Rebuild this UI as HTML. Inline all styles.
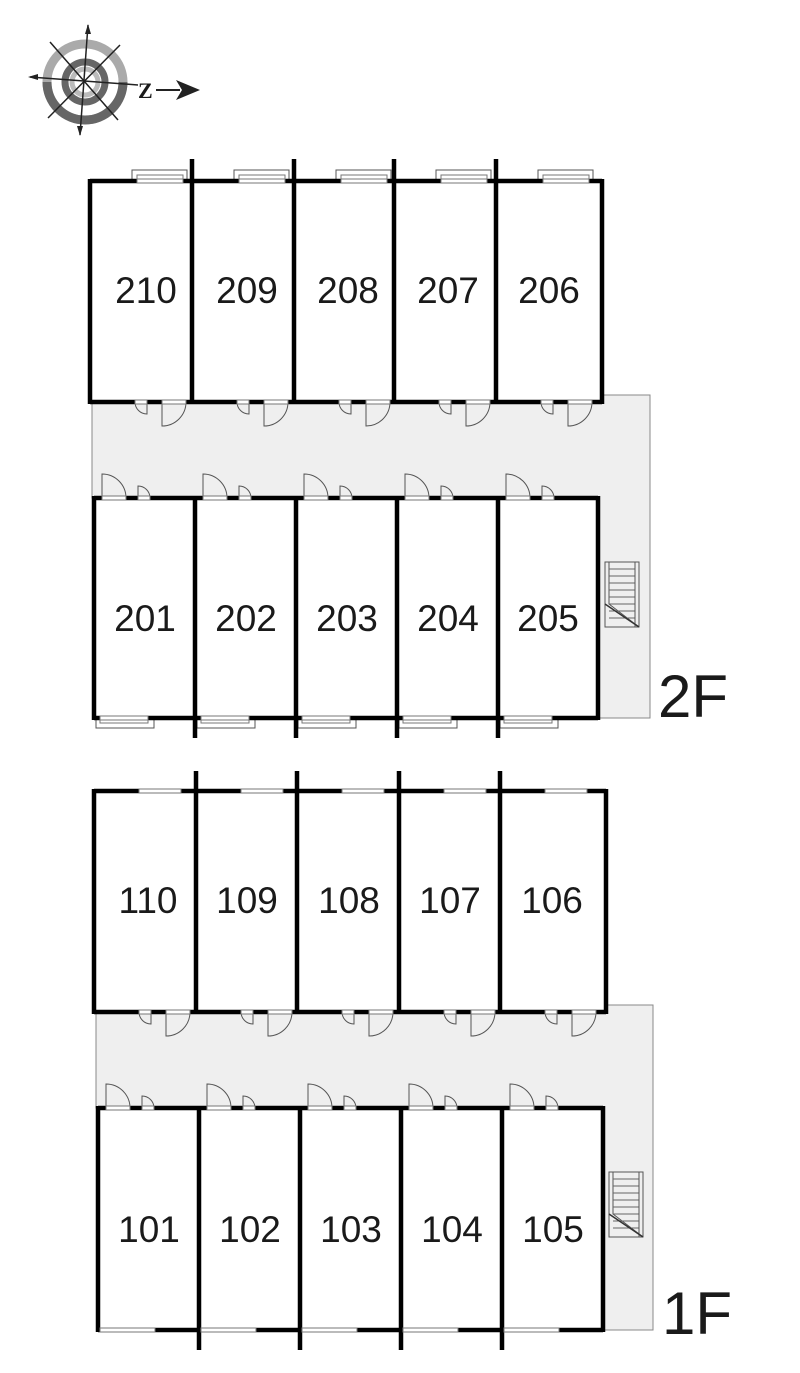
<!DOCTYPE html>
<html><head><meta charset="utf-8"><style>
html,body{margin:0;padding:0;background:#fff;}
svg{display:block;}
text{font-family:"Liberation Sans",sans-serif;fill:#1a1a1a;}
</style></head><body>
<svg id="s" width="800" height="1373" viewBox="0 0 800 1373" xmlns="http://www.w3.org/2000/svg">
<polygon points="92,402 602,402 602,395 650,395 650,718 598,718 598,498 92,498" fill="#efefef" stroke="#888" stroke-width="1"/>
<polygon points="96,1012 606,1012 606,1005 653,1005 653,1330 603,1330 603,1108 96,1108" fill="#efefef" stroke="#888" stroke-width="1"/>
<g id="g"></g>
<g>
<circle cx="85" cy="82" r="38" fill="none" stroke="#aaa" stroke-width="9"/>
<path d="M47,82 A38,38 0 0 0 123,82" fill="none" stroke="#666" stroke-width="9"/>
<circle cx="85" cy="82" r="20" fill="none" stroke="#666" stroke-width="7"/>
<circle cx="85" cy="82" r="13" fill="none" stroke="#bbb" stroke-width="5"/>
<g stroke="#222" stroke-width="1.5">
<line x1="88" y1="25" x2="80" y2="135"/><line x1="30" y1="77" x2="138" y2="85"/>
<line x1="50" y1="42" x2="118" y2="120"/><line x1="120" y1="45" x2="48" y2="118"/>
</g>
<polygon points="88,24 85,34 91,34" fill="#222"/><polygon points="80,136 77,126 83,126" fill="#222"/>
<polygon points="28,77 38,74 38,80" fill="#222"/>
<text x="138" y="98" font-size="22" font-weight="bold" style="font-family:'Liberation Serif',serif">Z</text>
<line x1="156" y1="90" x2="180" y2="90" stroke="#222" stroke-width="2"/>
<polygon points="200,90 176,80 182,90 176,100" fill="#222"/>
</g>
<g font-size="37" text-anchor="middle" fill="#222">
<text x="146" y="303">210</text><text x="247" y="303">209</text><text x="348" y="303">208</text><text x="448" y="303">207</text><text x="549" y="303">206</text>
<text x="145" y="631">201</text><text x="246" y="631">202</text><text x="347" y="631">203</text><text x="448" y="631">204</text><text x="548" y="631">205</text>
<text x="148" y="913">110</text><text x="247" y="913">109</text><text x="349" y="913">108</text><text x="450" y="913">107</text><text x="552" y="913">106</text>
<text x="149" y="1242">101</text><text x="250" y="1242">102</text><text x="351" y="1242">103</text><text x="452" y="1242">104</text><text x="553" y="1242">105</text>
</g>
<text x="658" y="717" font-size="60" fill="#222">2F</text>
<text x="662" y="1334" font-size="60" fill="#222">1F</text>
</svg>
<script>
var g=document.getElementById('g'),h='';
function L(x1,y1,x2,y2,w,c){h+='<line x1="'+x1+'" y1="'+y1+'" x2="'+x2+'" y2="'+y2+'" stroke="'+(c||'#000')+'" stroke-width="'+w+'"/>';}
function R(x,y,w,hh,f,s){h+='<rect x="'+x+'" y="'+y+'" width="'+w+'" height="'+hh+'" fill="'+(f||'#fff')+'" stroke="'+(s||'#555')+'" stroke-width="1"/>';}
function P(d){h+='<path d="'+d+'" fill="none" stroke="#555" stroke-width="1"/>';}
function doorDown(x,y,r,hingeRight){ if(hingeRight){P('M'+(x+r)+','+y+' L'+(x+r)+','+(y+r)+' A'+r+','+r+' 0 0 1 '+x+','+y);} else {P('M'+x+','+y+' L'+x+','+(y+r)+' A'+r+','+r+' 0 0 0 '+(x+r)+','+y);} R(x,y-2,r,4,'#fff','#777');}
function doorUp(x,y,r){P('M'+x+','+y+' L'+x+','+(y-r)+' A'+r+','+r+' 0 0 1 '+(x+r)+','+y); R(x,y-2,r,4,'#fff','#777');}
function block(xs,y1,y2,extUp,extDown,winTop,winBot,inline,doorsBelow,doorsAbove){
  var n=xs.length;
  for(var i=0;i<n-1;i++){
    var a=xs[i];
    if(winTop&&!inline){R(a+42,y1-11,55,11,'#fff','#555');R(a+47,y1-6,46,6,'#fff','#777');}
    if(winBot&&!inline){R(a+2,y2,58,10,'#fff','#555');R(a+6,y2,48,5,'#fff','#777');}
  }
  L(xs[0],y1,xs[n-1],y1,4.5);L(xs[0],y2,xs[n-1],y2,4.5);
  L(xs[0],y1-2,xs[0],y2+2,4.5);L(xs[n-1],y1-2,xs[n-1],y2+2,4.5);
  for(var i=1;i<n-1;i++)L(xs[i],y1-extUp,xs[i],y2+extDown,4.5);
  for(var i=0;i<n-1;i++){var a=xs[i];
    if(winTop){ if(inline){R(a+45,y1-2,42,4,'#fff','#777');} else {R(a+47,y1-2,46,4,'#fff','#777');} }
    if(winBot){ if(inline){R(a+2,y2-2,55,4,'#fff','#777');} else {R(a+6,y2-2,48,4,'#fff','#777');} }
    if(doorsBelow){doorDown(a+45,y2,12,true);doorDown(a+72,y2,24,false);}
    if(doorsAbove){doorUp(a+8,y1,24);doorUp(a+44,y1,12);}
  }
}
block([90,192,294,394,496,602],181,402,22,0,true,false,false,true,false);
block([94,195,296,397,498,598],498,718,0,20,false,true,false,false,true);
block([94,196,297,399,500,606],791,1012,20,0,true,false,true,true,false);
block([98,199,300,401,502,603],1108,1330,0,20,false,true,true,false,true);
function stairs(x,y){R(x,y,34,65,'#efefef','#555');P('M'+(x+4)+','+y+' L'+(x+4)+','+(y+42)+' L'+(x+34)+','+(y+65));
  for(var k=1;k<9;k++)L(x+4,y+k*7,x+30,y+k*7,1,'#666'); L(x+30,y,x+30,y+65,1,'#555');
  L(x,y+42,x+34,y+65,1.5,'#333');}
stairs(605,562);stairs(609,1172);
g.innerHTML=h;
</script>
</body></html>
